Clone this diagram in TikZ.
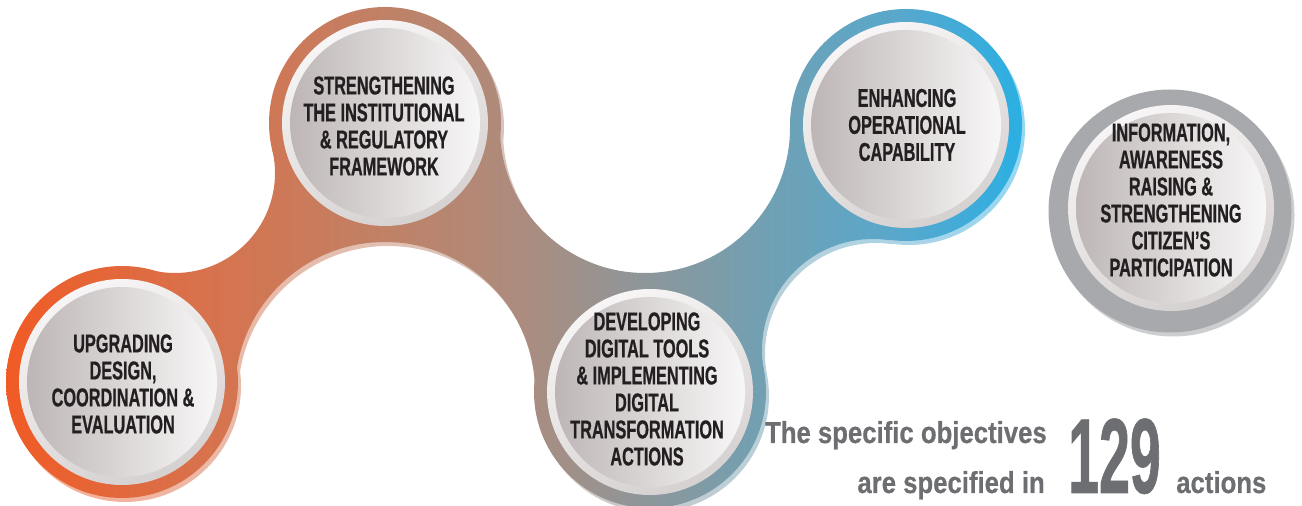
\documentclass[tikz,border=0pt]{standalone}
\usepackage{fontspec}
\newfontfamily\dincirc[FakeStretch=0.63,FakeBold=0.6]{Liberation Sans Bold}
\newfontfamily\dinbot[FakeStretch=0.85,FakeBold=0.6]{Liberation Sans Bold}
\newfontfamily\dinnum[FakeStretch=0.52,FakeBold=0.6]{Liberation Sans Bold}
\definecolor{b0}{RGB}{241,90,36}
\definecolor{b1}{RGB}{216,114,76}
\definecolor{b2}{RGB}{192,129,102}
\definecolor{b3}{RGB}{172,140,126}
\definecolor{b4}{RGB}{142,150,153}
\definecolor{b5}{RGB}{114,160,178}
\definecolor{b6}{RGB}{88,168,205}
\definecolor{b7}{RGB}{36,176,230}
\colorlet{l0}{b0!50!white}
\colorlet{l1}{b1!50!white}
\colorlet{l2}{b2!50!white}
\colorlet{l3}{b3!50!white}
\colorlet{l4}{b4!50!white}
\colorlet{l5}{b5!50!white}
\colorlet{l6}{b6!50!white}
\colorlet{l7}{b7!50!white}
\definecolor{ringtop}{RGB}{247,245,245}
\definecolor{ringbot}{RGB}{214,209,209}
\definecolor{diskl}{RGB}{190,182,182}
\definecolor{diskr}{RGB}{248,247,247}
\definecolor{txt}{RGB}{35,31,32}
\definecolor{graytxt}{RGB}{109,110,113}
\definecolor{grayring}{RGB}{167,169,172}
\definecolor{grayringl}{RGB}{205,206,208}
\pgfdeclarehorizontalshading{bandshade}{100bp}{color(0bp)=(b0); color(25bp)=(b0); color(34.62bp)=(b1); color(43.51bp)=(b2); color(50bp)=(b3); color(55.77bp)=(b4); color(61.54bp)=(b5); color(68.27bp)=(b6); color(75bp)=(b7); color(100bp)=(b7)}
\pgfdeclarehorizontalshading{bandlight}{100bp}{color(0bp)=(l0); color(25bp)=(l0); color(34.62bp)=(l1); color(43.51bp)=(l2); color(50bp)=(l3); color(55.77bp)=(l4); color(61.54bp)=(l5); color(68.27bp)=(l6); color(75bp)=(l7); color(100bp)=(l7)}
% the band: one polygon through disk centres and carve centres, minus the carve circles, plus the disks
\newcommand\bandlayer[1]{%
  \begin{scope}
    \clip (122,124)--(175,333)--(385,383)--(645,378)--(906,381)--(873,156)--(650,114)--(385,114)--cycle;
    \begin{scope}[even odd rule]
      \clip (-20,-20) rectangle (1330,530)
        (175,333) circle[radius=100] (385,114) circle[radius=150]
        (645,378) circle[radius=145] (873,156) circle[radius=111];
      \shade[shading=#1] (0,0) rectangle (1040,506);
    \end{scope}
  \end{scope}
  \begin{scope}
    \clip (122,124) circle[radius=116] (385,383) circle[radius=116]
      (650,114) circle[radius=116] (906,381) circle[radius=116];
    \shade[shading=#1] (0,0) rectangle (1040,506);
  \end{scope}}
\newcommand\innerdisk[2]{%
  \shade[top color=ringtop, bottom color=ringbot, shading angle=25] (#1,#2) circle[radius=103];
  \shade[left color=diskl, right color=diskr] (#1,#2) circle[radius=95];}
\tikzset{
  circtext/.style={align=center, text=txt, inner sep=0pt,
    font=\dincirc\fontsize{19.4}{20.25}\selectfont},
  bottext/.style={text=graytxt, inner sep=0pt, text depth=0pt,
    font=\dinbot\fontsize{22.7}{24}\selectfont}
}
\begin{document}
\begin{tikzpicture}[x=0.75pt,y=0.75pt]
\useasboundingbox (0,0) rectangle (1302,506);
% light offset copy of the band
\begin{scope}[shift={(3,-4)}]
  \bandlayer{bandlight}
\end{scope}
% main band
\bandlayer{bandshade}
% inner disks
\innerdisk{122}{124}
\innerdisk{385}{383}
\innerdisk{650}{114}
\innerdisk{906}{381}
% separate grey circle
\fill[grayringl] (1173,291) circle[radius=121.5];
\fill[grayring] (1170,295) circle[radius=121.5];
\innerdisk{1171}{298}
% texts
\node[circtext] (t1) at (123,122) {UPGRADING\\DESIGN,\\COORDINATION \&\\EVALUATION};
\node[circtext] (t2) at (384,380) {STRENGTHENING\\THE INSTITUTIONAL\\\& REGULATORY\\FRAMEWORK};
\node[circtext] (t3) at (647,117) {DEVELOPING\\DIGITAL TOOLS\\\& IMPLEMENTING\\DIGITAL\\TRANSFORMATION\\ACTIONS};
\node[circtext] (t4) at (907,381) {ENHANCING\\OPERATIONAL\\CAPABILITY};
\node[circtext] (t5) at (1171,306) {INFORMATION,\\AWARENESS\\RAISING \&\\STRENGTHENING\\CITIZEN’S\\PARTICIPATION};
\node[bottext, anchor=base east] (b1) at (1047,63) {The specific objectives};
\node[bottext, anchor=base east] (b2) at (1045,13) {are specified in};
\node[text=graytxt, inner sep=0pt, text depth=0pt, anchor=base west, font=\dinnum\fontsize{80}{80}\selectfont] (num) at (1068,13) {129};
\node[bottext, anchor=base west] (act) at (1176,13) {actions};
\end{tikzpicture}
\end{document}
